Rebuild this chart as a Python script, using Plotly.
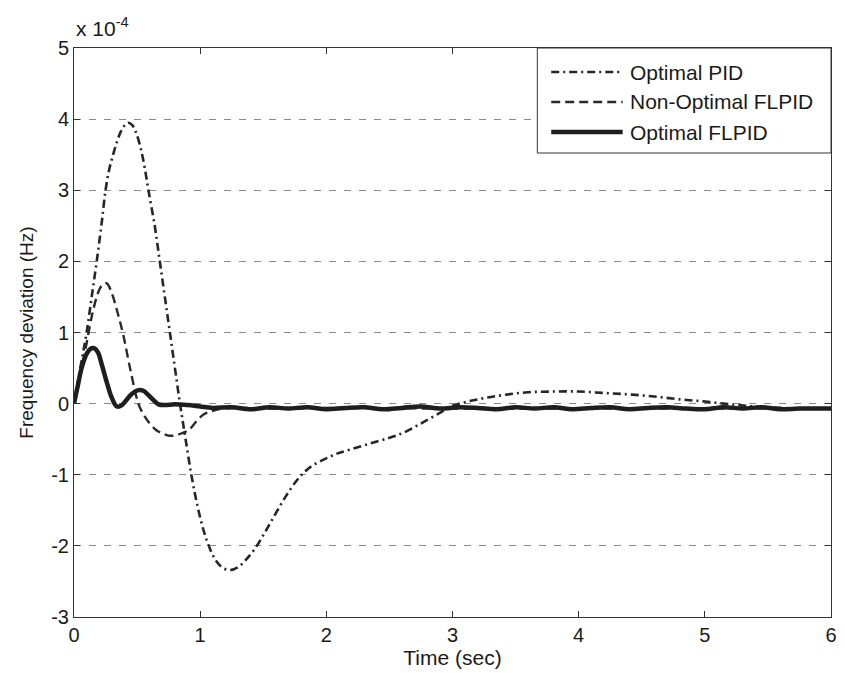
import plotly.graph_objects as go

# Frequency deviation responses (values in units of 1e-4 Hz)
t_pid = [0, 0.03, 0.06, 0.1, 0.14, 0.18, 0.22, 0.25, 0.28, 0.31, 0.34, 0.37, 0.40, 0.43,
         0.46, 0.49, 0.53, 0.56, 0.59, 0.64, 0.68, 0.72, 0.76, 0.80, 0.84, 0.88, 0.93,
         0.98, 1.03, 1.08, 1.13, 1.18, 1.24, 1.30, 1.36, 1.43, 1.51, 1.59, 1.68, 1.77,
         1.84, 1.90, 2.0, 2.09, 2.2, 2.35, 2.5, 2.61, 2.75, 2.9, 3.0, 3.2, 3.4, 3.6, 3.8,
         4.0, 4.2, 4.4, 4.6, 4.8, 5.0, 5.2, 5.4, 5.6, 5.8, 6.0]
v_pid = [0, 0.3, 0.6, 1.0, 1.5, 2.0, 2.55, 3.0, 3.3, 3.5, 3.68, 3.82, 3.91, 3.95,
         3.92, 3.82, 3.58, 3.32, 3.0, 2.5, 2.0, 1.5, 1.0, 0.5, 0.0, -0.45, -1.0,
         -1.45, -1.8, -2.05, -2.22, -2.31, -2.34, -2.3, -2.2, -2.05, -1.82, -1.57, -1.3, -1.07,
         -0.94, -0.86, -0.77, -0.7, -0.64, -0.56, -0.48, -0.41, -0.28, -0.13, -0.03, 0.06, 0.12, 0.16, 0.17,
         0.17, 0.15, 0.13, 0.1, 0.06, 0.03, -0.01, -0.04, -0.06, -0.07, -0.07]

t_nflpid = [0, 0.05, 0.1, 0.15, 0.2, 0.23, 0.26, 0.3, 0.35, 0.39, 0.45, 0.51, 0.55, 0.6,
            0.65, 0.7, 0.75, 0.79, 0.85, 0.91, 0.97, 1.03, 1.1, 1.17, 1.3, 1.6, 2.0,
            3.0, 4.0, 5.0, 6.0]
v_nflpid = [0, 0.4, 0.85, 1.3, 1.6, 1.68, 1.69, 1.55, 1.25, 0.97, 0.45, 0.0, -0.15, -0.28,
            -0.37, -0.42, -0.45, -0.45, -0.42, -0.37, -0.25, -0.15, -0.1, -0.07, -0.06, -0.07, -0.06,
            -0.07, -0.07, -0.07, -0.07]

t_oflpid = [0, 0.03, 0.06, 0.1, 0.13, 0.16, 0.19, 0.22, 0.26, 0.30, 0.34, 0.38, 0.42,
            0.46, 0.51, 0.55, 0.59, 0.63, 0.67, 0.72, 0.8, 0.9, 1.0, 1.1, 1.25, 1.4, 1.55,
            1.7, 1.85, 2.0, 2.15, 2.3, 2.45, 2.6, 2.75, 2.9, 3.05, 3.2, 3.35, 3.5, 3.65,
            3.8, 3.95, 4.1, 4.25, 4.4, 4.55, 4.7, 4.85, 5.0, 5.15, 5.3, 5.45, 5.6, 5.75,
            5.9, 6.0]
v_oflpid = [0, 0.25, 0.5, 0.7, 0.77, 0.78, 0.72, 0.55, 0.3, 0.08, -0.04, -0.02, 0.06,
            0.14, 0.19, 0.18, 0.12, 0.05, -0.01, -0.02, -0.01, -0.02, -0.04, -0.06, -0.05, -0.08, -0.05,
            -0.07, -0.05, -0.08, -0.06, -0.05, -0.08, -0.06, -0.04, -0.07, -0.05, -0.06, -0.08, -0.05, -0.07,
            -0.05, -0.08, -0.06, -0.05, -0.08, -0.06, -0.05, -0.07, -0.08, -0.05, -0.07, -0.05, -0.08, -0.07,
            -0.07, -0.07]

x_ticks = [0, 1, 2, 3, 4, 5, 6]
y_ticks = [-3, -2, -1, 0, 1, 2, 3, 4, 5]
y_ticktext = [str(v) for v in y_ticks]  # plain hyphen minus signs

series = [
    ("Optimal PID", t_pid, v_pid, dict(color="#262626", width=2.6, dash="8px,4px,2px,4px")),
    ("Non-Optimal FLPID", t_nflpid, v_nflpid, dict(color="#2a2a2a", width=2.4, dash="9px,5px")),
    ("Optimal FLPID", t_oflpid, v_oflpid, dict(color="#1e1e1e", width=4.5)),
]

fig = go.Figure()
for name, t, v, line in series:
    fig.add_trace(go.Scatter(x=t, y=v, mode="lines", name=name, line=line,
                             line_shape="spline", showlegend=False))

font_family = "Liberation Sans, Arial, sans-serif"

fig.update_layout(
    width=845, height=673,
    margin=dict(l=74, r=8, t=48, b=56),
    paper_bgcolor="white", plot_bgcolor="white",
    font=dict(family=font_family, size=20, color="#1a1a1a"),
    xaxis=dict(range=[0, 6], tickvals=x_ticks, ticks="inside", ticklen=6,
               tickcolor="#333", showline=True, linecolor="#333", linewidth=1,
               mirror="ticks", showgrid=False, zeroline=False,
               title=dict(text="Time (sec)", font=dict(size=21), standoff=4)),
    yaxis=dict(range=[-3, 5], tickvals=y_ticks, ticktext=y_ticktext, ticks="inside", ticklen=6,
               tickcolor="#333", showline=True, linecolor="#333", linewidth=1,
               mirror="ticks", showgrid=True, gridcolor="#8a8a8a", gridwidth=1,
               griddash="7px,8px", zeroline=False,
               title=dict(text="Frequency deviation (Hz)", font=dict(size=19), standoff=12)),
)

# Exponent label above the y axis
fig.add_annotation(xref="paper", yref="paper", x=0, y=1, xanchor="left", yanchor="bottom",
                   yshift=6, showarrow=False, text="x 10<sup>-4</sup>",
                   font=dict(size=21, color="#1a1a1a"))

# Boxed legend with long line samples
plot_l, plot_r, plot_t, plot_b = 74, 837, 48, 617
def px(xp):
    return (xp - plot_l) / (plot_r - plot_l)
def py(yp):
    return (plot_b - yp) / (plot_b - plot_t)

fig.add_shape(type="rect", xref="paper", yref="paper",
              x0=px(541), x1=1, y0=py(153), y1=1,
              line=dict(color="#333", width=1), fillcolor="white", layer="above")
row_y = [72, 102, 132]
for (name, _, _, line), ry in zip(series, row_y):
    fig.add_shape(type="line", xref="paper", yref="paper",
                  x0=px(555), x1=px(627), y0=py(ry), y1=py(ry),
                  line=line, layer="above")
    fig.add_annotation(xref="paper", yref="paper", x=px(632), y=py(ry),
                       xanchor="left", yanchor="middle", showarrow=False,
                       text=name, font=dict(size=21, color="#1a1a1a"))

fig.write_html("out.html")
